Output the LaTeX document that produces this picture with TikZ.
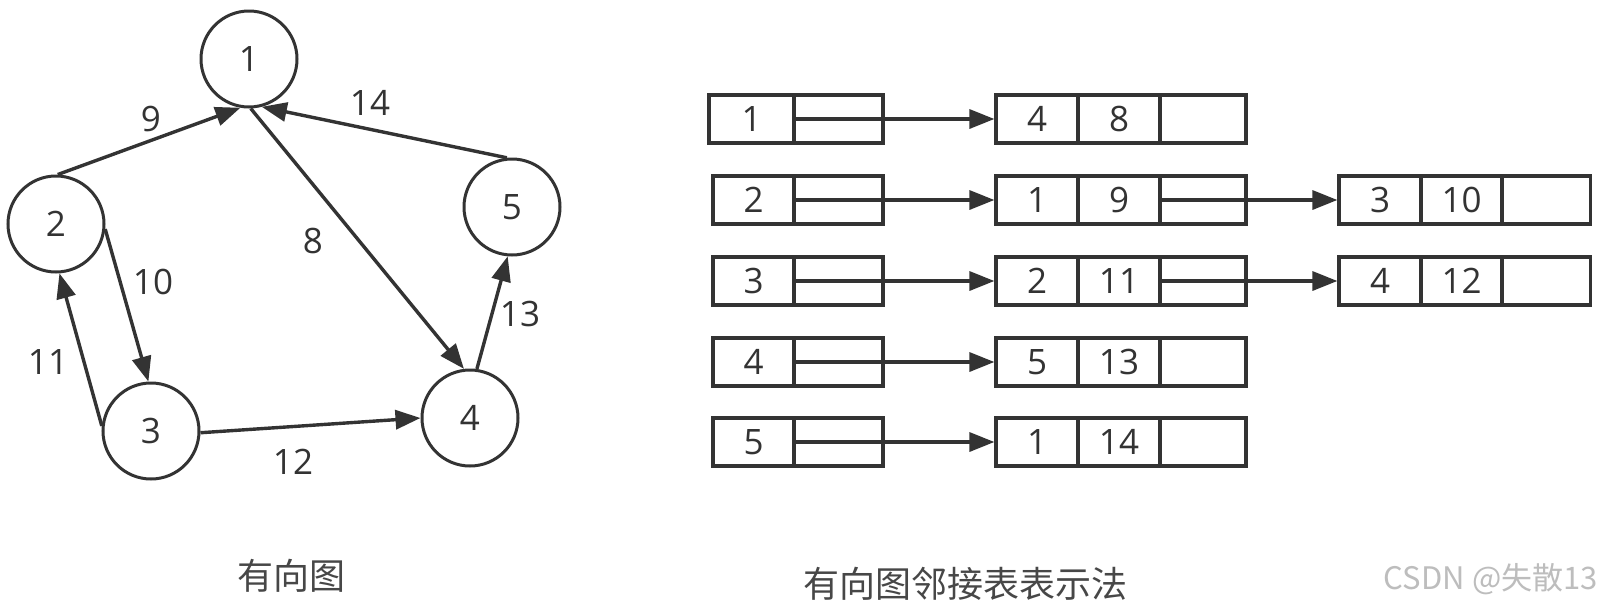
\documentclass[tikz,border=0pt]{standalone}
\usepackage{fontspec}
\setmainfont{Open Sans}
\newfontfamily\cjk{Noto Sans CJK SC}
\usetikzlibrary{arrows.meta}
\definecolor{ink}{HTML}{333333}
\definecolor{wm}{HTML}{BDBDBD}
\begin{document}
\begin{tikzpicture}[x=1pt,y=-1pt,
  vert/.style={circle,draw=ink,line width=3pt,minimum size=96pt,inner sep=0pt,font=\fontsize{35}{40}\selectfont,text=ink},
  edge/.style={draw=ink,line width=3.4pt,-{Triangle[length=25pt,width=19pt]}},
  lbl/.style={font=\fontsize{35}{40}\selectfont,text=ink,inner sep=0pt},
  cell/.style={draw=ink,line width=3.2pt,minimum height=48pt,inner sep=0pt,font=\fontsize{35}{40}\selectfont,text=ink},
  wa/.style={minimum width=81pt},
  wb/.style={minimum width=89pt},
  wc/.style={minimum width=82pt},
  wd/.style={minimum width=86pt},
  captext/.style={font=\cjk\fontsize{36}{40}\selectfont,text=ink!90,inner sep=0pt}]
\useasboundingbox[fill=white] (0,0) rectangle (1599,606);
% graph
\node[vert] (n1) at (249,59) {1};
\node[vert] (n2) at (56,224) {2};
\node[vert] (n3) at (151,431) {3};
\node[vert] (n4) at (470,418) {4};
\node[vert] (n5) at (512,207) {5};
\draw[edge] (n2.88) -- (n1.-100);
\draw[edge] (n5.96) -- (n1.-75);
\draw[edge] (n1.-88) -- (n4.97);
\draw[edge] (n4.82) -- (n5.-95);
\draw[edge] (n2.-6) -- (n3.93);
\draw[edge] (n3.174) -- (n2.-86);
\draw[edge] (n3.-2) -- (n4.180);
\node[lbl] (l9) at (151,119) {9};
\node[lbl] (l14) at (370,103) {14};
\node[lbl] (l8) at (313,241) {8};
\node[lbl] (l13) at (520,314) {13};
\node[lbl] (l10) at (153,282) {10};
\node[lbl] (l11) at (48,362) {11};
\node[lbl] (l12) at (293,462) {12};
% adjacency list
\node[cell,minimum width=85pt] (h1a) at (751.5,119) {1};
\node[cell,wb] (h1b) at (838.5,119) {};
\node[cell,wa] (h2a) at (753.5,200) {2};
\node[cell,wb] (h2b) at (838.5,200) {};
\node[cell,wa] (h3a) at (753.5,281) {3};
\node[cell,wb] (h3b) at (838.5,281) {};
\node[cell,wa] (h4a) at (753.5,362) {4};
\node[cell,wb] (h4b) at (838.5,362) {};
\node[cell,wa] (h5a) at (753.5,442) {5};
\node[cell,wb] (h5b) at (838.5,442) {};
% second column
\node[cell,wc] (s1a) at (1037,119) {4};
\node[cell,wc] (s1b) at (1119,119) {8};
\node[cell,wd] (s1c) at (1203,119) {};
\node[cell,wc] (s2a) at (1037,200) {1};
\node[cell,wc] (s2b) at (1119,200) {9};
\node[cell,wd] (s2c) at (1203,200) {};
\node[cell,wc] (s3a) at (1037,281) {2};
\node[cell,wc] (s3b) at (1119,281) {11};
\node[cell,wd] (s3c) at (1203,281) {};
\node[cell,wc] (s4a) at (1037,362) {5};
\node[cell,wc] (s4b) at (1119,362) {13};
\node[cell,wd] (s4c) at (1203,362) {};
\node[cell,wc] (s5a) at (1037,442) {1};
\node[cell,wc] (s5b) at (1119,442) {14};
\node[cell,wd] (s5c) at (1203,442) {};
% third column
\node[cell,wc] (t2a) at (1380,200) {3};
\node[cell,wa] (t2b) at (1461.5,200) {10};
\node[cell,wb] (t2c) at (1546,200) {};
\node[cell,wc] (t3a) at (1380,281) {4};
\node[cell,wa] (t3b) at (1461.5,281) {12};
\node[cell,wb] (t3c) at (1546,281) {};
% pointers
\draw[edge] (h1b.west) -- (s1a.west);
\draw[edge] (h2b.west) -- (s2a.west);
\draw[edge] (h3b.west) -- (s3a.west);
\draw[edge] (h4b.west) -- (s4a.west);
\draw[edge] (h5b.west) -- (s5a.west);
\draw[edge] (s2c.west) -- (t2a.west);
\draw[edge] (s3c.west) -- (t3a.west);
% captions
\node[captext] (c1) at (291,576) {有向图};
\node[captext] (c2) at (965,584) {有向图邻接表表示法};
\node[font=\cjk\fontsize{31}{34}\selectfont,text=wm,inner sep=0pt,anchor=east] (wmk) at (1598,579) {CSDN @失散13};
\end{tikzpicture}
\end{document}
